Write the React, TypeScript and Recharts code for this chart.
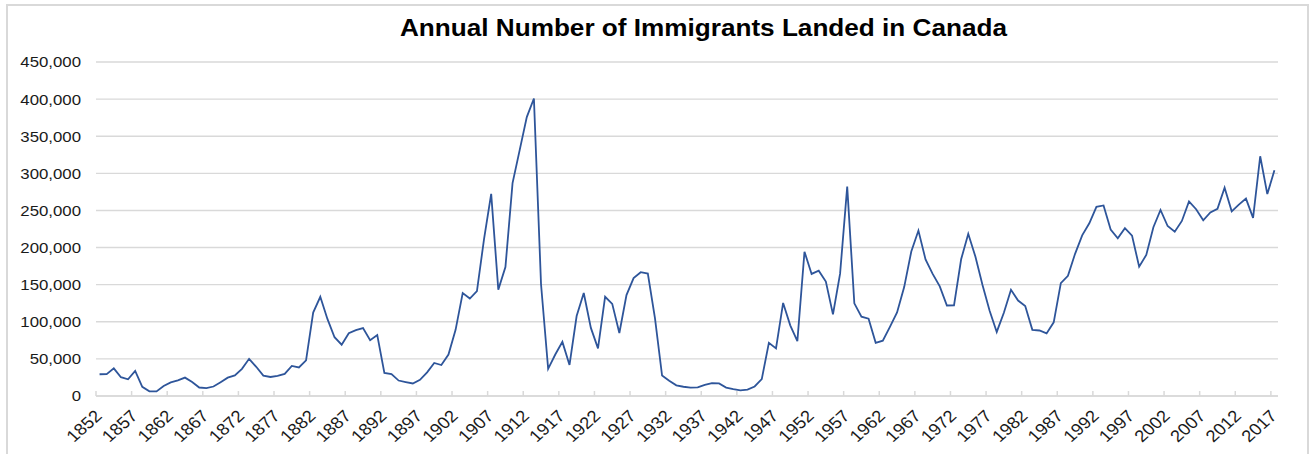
import React from "react";
import { LineChart, Line, XAxis, YAxis, CartesianGrid } from "recharts";

const TITLE = "Annual Number of Immigrants Landed in Canada";

const years1850s = [1852, 1853, 1854, 1855, 1856, 1857, 1858, 1859];
const years1860s = [1860, 1861, 1862, 1863, 1864, 1865, 1866, 1867, 1868, 1869];
const years1870s = [1870, 1871, 1872, 1873, 1874, 1875, 1876, 1877, 1878, 1879];
const years1880s = [1880, 1881, 1882, 1883, 1884, 1885, 1886, 1887, 1888, 1889];
const years1890s = [1890, 1891, 1892, 1893, 1894, 1895, 1896, 1897, 1898, 1899];
const years1900s = [1900, 1901, 1902, 1903, 1904, 1905, 1906, 1907, 1908, 1909];
const years1910s = [1910, 1911, 1912, 1913, 1914, 1915, 1916, 1917, 1918, 1919];
const years1920s = [1920, 1921, 1922, 1923, 1924, 1925, 1926, 1927, 1928, 1929];
const years1930s = [1930, 1931, 1932, 1933, 1934, 1935, 1936, 1937, 1938, 1939];
const years1940s = [1940, 1941, 1942, 1943, 1944, 1945, 1946, 1947, 1948, 1949];
const years1950s = [1950, 1951, 1952, 1953, 1954, 1955, 1956, 1957, 1958, 1959];
const years1960s = [1960, 1961, 1962, 1963, 1964, 1965, 1966, 1967, 1968, 1969];
const years1970s = [1970, 1971, 1972, 1973, 1974, 1975, 1976, 1977, 1978, 1979];
const years1980s = [1980, 1981, 1982, 1983, 1984, 1985, 1986, 1987, 1988, 1989];
const years1990s = [1990, 1991, 1992, 1993, 1994, 1995, 1996, 1997, 1998, 1999];
const years2000s = [2000, 2001, 2002, 2003, 2004, 2005, 2006, 2007, 2008, 2009];
const years2010s = [2010, 2011, 2012, 2013, 2014, 2015, 2016, 2017];

const imm1850s = [29307, 29464, 37263, 25296, 22544, 33854, 12339, 6300];
const imm1860s = [6276, 13589, 18294, 21000, 24779, 18958, 11427, 10666, 12765, 18630];
const imm1870s = [24706, 27773, 36578, 50050, 39373, 27382, 25633, 27082, 29807, 40492];
const imm1880s = [38505, 47991, 112458, 133624, 103824, 79169, 69152, 84526, 88766, 91600];
const imm1890s = [75067, 82165, 30996, 29633, 20829, 18790, 16835, 21716, 31900, 44543];
const imm1900s = [41681, 55747, 89102, 138660, 131252, 141465, 211653, 272409, 143326, 173694];
const imm1910s = [286839, 331288, 375756, 400870, 150484, 36665, 55914, 72910, 41845, 107698];
const imm1920s = [138824, 91728, 64224, 133729, 124164, 84907, 135982, 158886, 166783, 164993];
const imm1930s = [104806, 27530, 20591, 14382, 12476, 11277, 11643, 15101, 17244, 16994];
const imm1940s = [11324, 9329, 7576, 8504, 12801, 22722, 71719, 64127, 125414, 95217];
const imm1950s = [73912, 194391, 164498, 168868, 154227, 109946, 164857, 282164, 124851, 106928];
const imm1960s = [104111, 71698, 74586, 93151, 112606, 146758, 194743, 222876, 183974, 164531];
const imm1970s = [147713, 121900, 122006, 184200, 218465, 187881, 149429, 114914, 86313, 112096];
const imm1980s = [143117, 128618, 121147, 89157, 88239, 84302, 99219, 152098, 161929, 191556];
const imm1990s = [216452, 232744, 254817, 256741, 224364, 212504, 226073, 216038, 174195, 189951];
const imm2000s = [227455, 250637, 229048, 221349, 235823, 262239, 251640, 236753, 247243, 252179];
const imm2010s = [280681, 248748, 257903, 266000, 240000, 323000, 272000, 304000];

const yTicks = [0, 50000, 100000, 150000, 200000, 250000, 300000, 350000, 400000, 450000];

const years = [
  ...years1850s, ...years1860s, ...years1870s, ...years1880s, ...years1890s,
  ...years1900s, ...years1910s, ...years1920s, ...years1930s, ...years1940s,
  ...years1950s, ...years1960s, ...years1970s, ...years1980s, ...years1990s,
  ...years2000s, ...years2010s,
];
const immigrants = [
  ...imm1850s, ...imm1860s, ...imm1870s, ...imm1880s, ...imm1890s,
  ...imm1900s, ...imm1910s, ...imm1920s, ...imm1930s, ...imm1940s,
  ...imm1950s, ...imm1960s, ...imm1970s, ...imm1980s, ...imm1990s,
  ...imm2000s, ...imm2010s,
];

const data = years.map((y, i) => ({ year: String(y), value: immigrants[i] }));

const FONT = "'Liberation Sans', Arial, Helvetica, sans-serif";
const GRID = "#d9d9d9";
const TEXT = "#1a1a1a";
const LINE = "#2E559A";
const STRETCH = 1.12;
const HALF_STEP = 3.56;

const fmt = (v: number) => v.toLocaleString("en-US");

const YTick = (props: any) => {
  const { x, y, payload } = props;
  return (
    <text
      transform={`translate(${x},${y}) scale(${STRETCH},1)`}
      textAnchor="end"
      dy="0.36em"
      fontSize={15}
      fontFamily={FONT}
      fill={TEXT}
    >
      {fmt(payload.value)}
    </text>
  );
};

const XTick = (props: any) => {
  const { x, y, payload } = props;
  const tx = x - HALF_STEP;
  return (
    <g>
      <line x1={tx} x2={tx} y1={y} y2={y - 5} stroke={GRID} strokeWidth={1.5} />
      <text
        transform={`translate(${x + 3.5},${y + 21}) scale(${STRETCH},1) rotate(-45)`}
        textAnchor="end"
        fontSize={16.5}
        fontFamily={FONT}
        fill={TEXT}
      >
        {payload.value}
      </text>
    </g>
  );
};

export default function App() {
  return (
    <div
      style={{
        position: "fixed",
        left: 0,
        top: 0,
        width: 1310,
        height: 454,
        overflow: "hidden",
        background: "#ffffff",
      }}
    >
      <div
        style={{
          position: "absolute",
          left: 6,
          top: 4,
          width: 1303,
          height: 520,
          boxSizing: "border-box",
          border: `2px solid ${GRID}`,
        }}
      />
      <svg
        width={1310}
        height={454}
        style={{ position: "absolute", left: 0, top: 0, pointerEvents: "none" }}
      >
        <text
          x={400}
          y={36}
          textLength={607}
          lengthAdjust="spacingAndGlyphs"
          fontSize={23}
          fontWeight="bold"
          fontFamily={FONT}
          fill="#000000"
        >
          {TITLE}
        </text>
      </svg>
      <div style={{ position: "absolute", left: 0, top: 0 }}>
        <LineChart
          width={1310}
          height={454}
          data={data}
          margin={{ top: 62, right: 32, left: 16, bottom: 0 }}
        >
          <CartesianGrid vertical={false} stroke={GRID} strokeWidth={1.4} />
          <XAxis
            dataKey="year"
            type="category"
            interval={4}
            height={58}
            padding={{ left: HALF_STEP, right: HALF_STEP }}
            axisLine={{ stroke: GRID, strokeWidth: 1.5 }}
            tickLine={false}
            tickSize={0}
            tickMargin={0}
            tick={<XTick />}
          />
          <YAxis
            domain={[0, 450000]}
            ticks={yTicks}
            width={80}
            axisLine={false}
            tickLine={false}
            tickSize={0}
            tickMargin={15}
            tick={<YTick />}
          />
          <Line
            type="linear"
            dataKey="value"
            stroke={LINE}
            strokeWidth={1.8}
            dot={false}
            activeDot={false}
            isAnimationActive={false}
          />
        </LineChart>
      </div>
    </div>
  );
}
